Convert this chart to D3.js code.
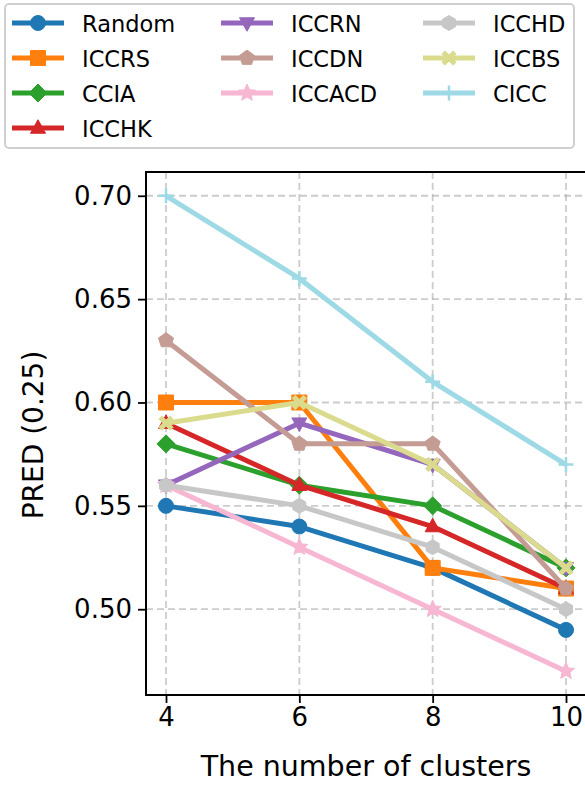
<!DOCTYPE html>
<html>
<head>
<meta charset="utf-8">
<script src="https://cdn.jsdelivr.net/npm/d3@7"></script>
<style>
  body { margin: 0; background: #fff; }
  text { font-family: "DejaVu Sans", sans-serif; }
</style>
</head>
<body>
<div id="chart"></div>
<script>
// data
var clusters = [4, 6, 8, 10];
var methods = ["Random", "ICCRS", "CCIA", "ICCHK", "ICCRN", "ICCDN", "ICCACD", "ICCHD", "ICCBS", "CICC"];
var random = [0.55, 0.54, 0.52, 0.49];
var iccrs  = [0.60, 0.60, 0.52, 0.51];
var ccia   = [0.58, 0.56, 0.55, 0.52];
var icchk  = [0.59, 0.56, 0.54, 0.51];
var iccrn  = [0.56, 0.59, 0.57, 0.52];
var iccdn  = [0.63, 0.58, 0.58, 0.51];
var iccacd = [0.56, 0.53, 0.50, 0.47];
var icchd  = [0.56, 0.55, 0.53, 0.50];
var iccbs  = [0.59, 0.60, 0.57, 0.52];
var cicc   = [0.70, 0.66, 0.61, 0.57];
var yTicks = [0.50, 0.55, 0.60, 0.65, 0.70];

var values = [random, iccrs, ccia, icchk, iccrn, iccdn, iccacd, icchd, iccbs, cicc];
var colors = ["#1f77b4", "#ff7f0e", "#2ca02c", "#d62728", "#9467bd",
              "#c49c94", "#f7b6d2", "#c7c7c7", "#dbdb8d", "#9edae5"];
var markers = ["o", "s", "D", "^", "v", "p", "*", "h", "X", "+"];

var W = 585, H = 785;
var margin = {top: 172, right: -1, bottom: 90, left: 146};
var width = W - margin.left - margin.right,
    height = H - margin.top - margin.bottom;

var svg = d3.select("#chart").append("svg")
    .attr("width", W).attr("height", H);

// marker paths, s = size in px
function poly(n, r, rot) {
  var pts = [];
  for (var i = 0; i < n; i++) {
    var a = rot + i * 2 * Math.PI / n;
    pts.push([r * Math.sin(a), -r * Math.cos(a)]);
  }
  return "M" + pts.map(function(p) { return p[0].toFixed(2) + "," + p[1].toFixed(2); }).join("L") + "Z";
}
function star(r) {
  var pts = [];
  for (var i = 0; i < 10; i++) {
    var rr = i % 2 ? r * 0.45 : r;
    var a = i * Math.PI / 5;
    pts.push([rr * Math.sin(a), -rr * Math.cos(a)]);
  }
  return "M" + pts.map(function(p) { return p[0].toFixed(2) + "," + p[1].toFixed(2); }).join("L") + "Z";
}
function markerPath(m, s) {
  var r = s / 2;
  switch (m) {
    case "o": return d3.symbol(d3.symbolCircle, Math.PI * r * r)();
    case "s": return "M" + -r + "," + -r + "H" + r + "V" + r + "H" + -r + "Z";
    case "D": return poly(4, r * 1.2, 0);
    case "^": return "M0," + (-r * 1.1) + "L" + r + "," + (r * 0.7) + "L" + -r + "," + (r * 0.7) + "Z";
    case "v": return "M0," + (r * 1.1) + "L" + r + "," + (-r * 0.7) + "L" + -r + "," + (-r * 0.7) + "Z";
    case "p": return poly(5, r * 1.05, 0);
    case "*": return star(r * 1.2);
    case "h": return poly(6, r, 0);
    case "X": {
      var a = r * 0.95, b = r * 0.4;
      return "M" + -a + "," + (-a + b) + "L" + (-a + b) + "," + -a + "L0," + -b +
             "L" + (a - b) + "," + -a + "L" + a + "," + (-a + b) + "L" + b + ",0" +
             "L" + a + "," + (a - b) + "L" + (a - b) + "," + a + "L0," + b +
             "L" + (-a + b) + "," + a + "L" + -a + "," + (a - b) + "L" + -b + ",0Z";
    }
    case "+": return "M" + -r + ",0H" + r + "M0," + -r + "V" + r;
  }
}

var g = svg.append("g")
    .attr("transform", "translate(" + margin.left + "," + margin.top + ")");

var x = d3.scaleLinear().domain([3.7, 10.3]).range([0, width]);
var y = d3.scaleLinear().domain([0.4585, 0.7115]).range([height, 0]);

// grid
g.append("g").selectAll("line").data(clusters).enter().append("line")
    .attr("x1", function(d) { return x(d); }).attr("x2", function(d) { return x(d); })
    .attr("y1", 0).attr("y2", height)
    .attr("stroke", "#b0b0b0").attr("stroke-opacity", 0.65)
    .attr("stroke-width", 1.8).attr("stroke-dasharray", "7,4");
g.append("g").selectAll("line").data(yTicks).enter().append("line")
    .attr("y1", function(d) { return y(d); }).attr("y2", function(d) { return y(d); })
    .attr("x1", 0).attr("x2", width)
    .attr("stroke", "#b0b0b0").attr("stroke-opacity", 0.65)
    .attr("stroke-width", 1.8).attr("stroke-dasharray", "7,4");

// lines and markers
var line = d3.line()
    .x(function(d, i) { return x(clusters[i]); })
    .y(function(d) { return y(d); });

methods.forEach(function(name, k) {
  var s = g.append("g");
  s.append("path").datum(values[k])
    .attr("d", line)
    .attr("fill", "none")
    .attr("stroke", colors[k])
    .attr("stroke-width", 5)
    .attr("stroke-linejoin", "round");
  s.selectAll("path.m").data(values[k]).enter().append("path")
    .attr("class", "m")
    .attr("transform", function(d, i) { return "translate(" + x(clusters[i]) + "," + y(d) + ")"; })
    .attr("d", markerPath(markers[k], 15))
    .attr("fill", markers[k] === "+" ? "none" : colors[k])
    .attr("stroke", colors[k])
    .attr("stroke-width", markers[k] === "+" ? 2.5 : 1);
});

// axes
var xAxis = g.append("g")
    .attr("transform", "translate(0," + height + ")")
    .call(d3.axisBottom(x).tickValues(clusters).tickFormat(d3.format("d")).tickSize(8).tickPadding(5));
var yAxis = g.append("g")
    .call(d3.axisLeft(y).tickValues(yTicks).tickFormat(d3.format(".2f")).tickSize(8).tickPadding(6));
[xAxis, yAxis].forEach(function(a) {
  a.select(".domain").remove();
  a.selectAll("line").attr("stroke", "#000").attr("stroke-width", 1.8);
  a.selectAll("text").attr("font-size", 26).attr("fill", "#000")
    .attr("font-family", "DejaVu Sans, sans-serif");
});

// frame
g.append("rect").attr("x", 0).attr("y", 0).attr("width", width).attr("height", height)
    .attr("fill", "none").attr("stroke", "#000").attr("stroke-width", 2);

// axis labels
svg.append("text")
    .attr("x", 366).attr("y", 776)
    .attr("text-anchor", "middle").attr("font-size", 28.5)
    .text("The number of clusters");
svg.append("text")
    .attr("transform", "translate(43," + 435 + ") rotate(-90)")
    .attr("text-anchor", "middle").attr("font-size", 28)
    .text("PRED (0.25)");

// legend
var legend = svg.append("g");
legend.append("rect")
    .attr("x", 5).attr("y", 4).attr("width", 569).attr("height", 144)
    .attr("rx", 4).attr("fill", "#fff").attr("stroke", "#d0d0d0").attr("stroke-width", 2);
var colX = [12, 221, 423];
methods.forEach(function(name, k) {
  var col = 0, row = k;
  if (k >= 4) { col = 1 + Math.floor((k - 4) / 3); row = (k - 4) % 3; }
  var lx = colX[col], ly = 23 + row * 35;
  var it = legend.append("g");
  it.append("line").attr("x1", lx).attr("x2", lx + 52).attr("y1", ly).attr("y2", ly)
    .attr("stroke", colors[k]).attr("stroke-width", 5);
  it.append("path")
    .attr("transform", "translate(" + (lx + 26) + "," + ly + ")")
    .attr("d", markerPath(markers[k], 15))
    .attr("fill", markers[k] === "+" ? "none" : colors[k])
    .attr("stroke", colors[k])
    .attr("stroke-width", markers[k] === "+" ? 2.5 : 1);
  it.append("text").attr("x", lx + 70).attr("y", ly + 8.5)
    .attr("font-size", 22.5).text(name);
});
</script>
</body>
</html>
